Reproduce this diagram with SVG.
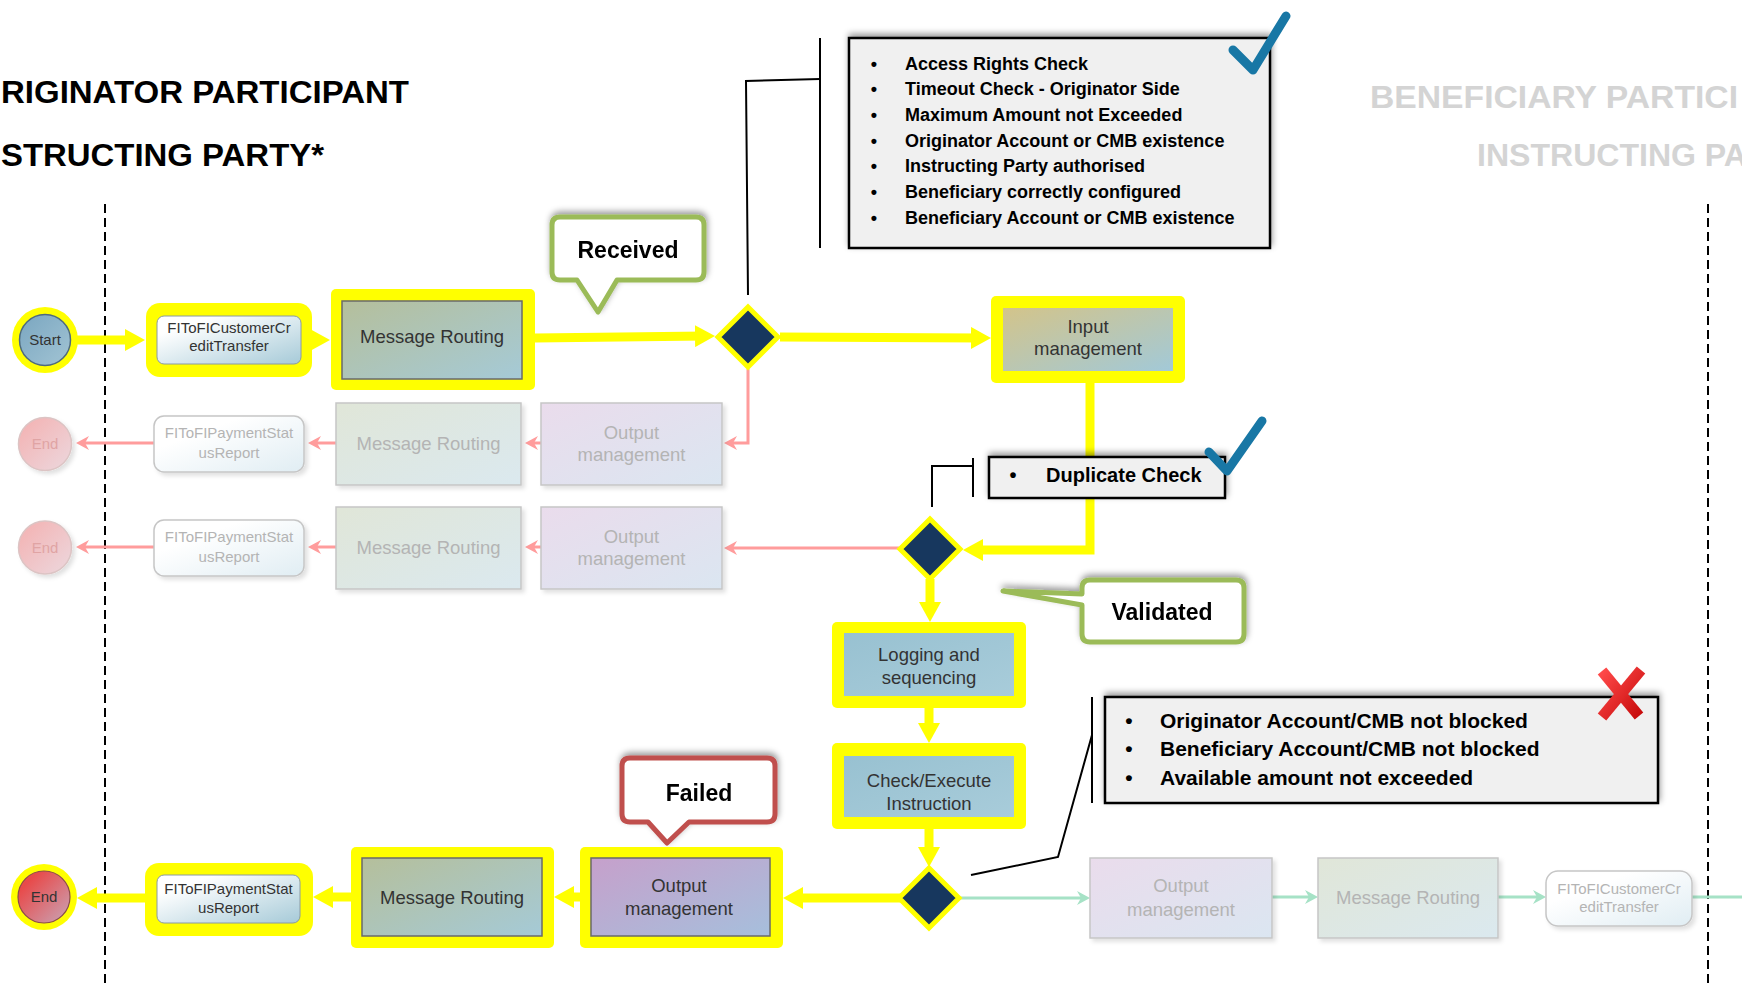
<svg xmlns="http://www.w3.org/2000/svg" width="1742" height="986" viewBox="0 0 1742 986">
<style>
.hl{fill:#ffff00}
.lbl{font-family:"Liberation Sans",Arial,sans-serif;font-size:18.5px;fill:#333;text-anchor:middle}
.sm{font-size:15px}
.fd{fill:#b4b4b4}
.fdend{fill:#e0a4a4}
.title{font-family:"Liberation Sans",Arial,sans-serif;font-weight:bold;font-size:31.5px;fill:#000}
.gt{fill:#d4d4d4}
.chk{font-family:"Liberation Sans",Arial,sans-serif;font-weight:bold;fill:#000}
.call{font-family:"Liberation Sans",Arial,sans-serif;font-weight:bold;font-size:23px;fill:#000;text-anchor:middle}
.yl{fill:none;stroke:#ffff00;stroke-width:9}
.pk{fill:none;stroke:#ff9c9c;stroke-width:3}
.gr{fill:none;stroke:#a6e2c6;stroke-width:3}
.bk{fill:none;stroke:#000;stroke-width:2}
.dash{fill:none;stroke:#000;stroke-width:2;stroke-dasharray:9 5}
.fbox{stroke:#c6c6c6;stroke-width:1.5}
.abox{stroke:#6a6a6a;stroke-width:1.5}
.dia{fill:#17375e;stroke:#ffff00;stroke-width:5;stroke-linejoin:miter}
.cbox{fill:#f0f0f0;stroke:#000;stroke-width:2.5}
.tick{fill:none;stroke:#1877a5;stroke-width:9;stroke-linecap:round;stroke-linejoin:round}
</style>
<defs>
<linearGradient id="gMR" x1="0" y1="0" x2="1" y2="1"><stop offset="0" stop-color="#b5bf9b"/><stop offset="1" stop-color="#a5cad7"/></linearGradient>
<linearGradient id="gOut" x1="0" y1="0" x2="1" y2="1"><stop offset="0" stop-color="#c6a0cb"/><stop offset="1" stop-color="#a6bfdc"/></linearGradient>
<linearGradient id="gIn" x1="0" y1="0" x2="1" y2="1"><stop offset="0" stop-color="#d3c48a"/><stop offset="1" stop-color="#a2c9d8"/></linearGradient>
<linearGradient id="gLog" x1="0" y1="0" x2="1" y2="1"><stop offset="0" stop-color="#98c1d1"/><stop offset="1" stop-color="#a8ccda"/></linearGradient>
<linearGradient id="gFI" x1="0" y1="0" x2="1" y2="1"><stop offset="0.2" stop-color="#ffffff"/><stop offset="1" stop-color="#a6cad8"/></linearGradient>
<linearGradient id="gStart" x1="0" y1="0" x2="1" y2="1"><stop offset="0" stop-color="#7aa6c0"/><stop offset="1" stop-color="#a2c4d4"/></linearGradient>
<linearGradient id="gEnd" x1="0" y1="0" x2="1" y2="1"><stop offset="0.2" stop-color="#e84a4a"/><stop offset="1" stop-color="#c8a6b8"/></linearGradient>
<linearGradient id="gMRf" x1="0" y1="0" x2="1" y2="1"><stop offset="0" stop-color="#e0e6d8"/><stop offset="1" stop-color="#dbe9ef"/></linearGradient>
<linearGradient id="gOutf" x1="0" y1="0" x2="1" y2="1"><stop offset="0" stop-color="#eadcec"/><stop offset="1" stop-color="#dbe6f1"/></linearGradient>
<linearGradient id="gFIf" x1="0" y1="0" x2="1" y2="1"><stop offset="0.3" stop-color="#ffffff"/><stop offset="1" stop-color="#e0edf3"/></linearGradient>
<linearGradient id="gEndf" x1="0" y1="0" x2="1" y2="1"><stop offset="0" stop-color="#f4b0b0"/><stop offset="1" stop-color="#ecd8de"/></linearGradient>
<linearGradient id="gX" x1="0" y1="0" x2="1" y2="1"><stop offset="0" stop-color="#ff4a4a"/><stop offset="1" stop-color="#c80c0c"/></linearGradient>
<filter id="sh" x="-20%" y="-40%" width="140%" height="180%"><feDropShadow dx="1" dy="-3" stdDeviation="3" flood-color="#000" flood-opacity="0.4"/></filter>
<filter id="bs" x="-10%" y="-10%" width="130%" height="130%"><feDropShadow dx="3" dy="3" stdDeviation="2" flood-color="#000" flood-opacity="0.12"/></filter>
<marker id="ay" markerUnits="userSpaceOnUse" viewBox="0 0 20 22" refX="10" refY="11" markerWidth="20" markerHeight="22" orient="auto"><path d="M0,0 L20,11 L0,22 Z" fill="#ffff00"/></marker>
<marker id="ap" markerUnits="userSpaceOnUse" viewBox="0 0 13 14" refX="9" refY="7" markerWidth="13" markerHeight="14" orient="auto"><path d="M0,0 L13,7 L0,14 L4,7 Z" fill="#ff9c9c"/></marker>
<marker id="ag" markerUnits="userSpaceOnUse" viewBox="0 0 13 14" refX="9" refY="7" markerWidth="13" markerHeight="14" orient="auto"><path d="M0,0 L13,7 L0,14 L4,7 Z" fill="#a6e2c6"/></marker>
</defs>
<rect width="1742" height="986" fill="#fff"/>

<g id="titles">
<text class="title" x="1" y="103" textLength="408" lengthAdjust="spacingAndGlyphs">RIGINATOR PARTICIPANT</text>
<text class="title" x="1" y="166" textLength="323" lengthAdjust="spacingAndGlyphs">STRUCTING PARTY*</text>
<text class="title gt" x="1370" y="108" textLength="368" lengthAdjust="spacingAndGlyphs">BENEFICIARY PARTICI</text>
<text class="title gt" x="1477" y="166" textLength="270" lengthAdjust="spacingAndGlyphs">INSTRUCTING PA</text>
</g>

<g id="lanes">
<line class="dash" x1="105" y1="204" x2="105" y2="986"/>
<line class="dash" x1="1708" y1="204" x2="1708" y2="986"/>
</g>

<g id="connectors">
<line class="yl" x1="77" y1="340" x2="135" y2="340" marker-end="url(#ay)"/>
<line class="yl" x1="312" y1="340" x2="320" y2="340" marker-end="url(#ay)"/>
<line class="yl" x1="535" y1="338" x2="705" y2="336" marker-end="url(#ay)"/>
<line class="yl" x1="780" y1="337" x2="981" y2="338" marker-end="url(#ay)"/>
<path class="yl" d="M1090,383 V550 H973" marker-end="url(#ay)"/>
<line class="yl" x1="930" y1="579" x2="930" y2="612" marker-end="url(#ay)"/>
<line class="yl" x1="929" y1="708" x2="929" y2="733" marker-end="url(#ay)"/>
<line class="yl" x1="929" y1="829" x2="929" y2="857" marker-end="url(#ay)"/>
<line class="yl" x1="900" y1="898" x2="793" y2="898" marker-end="url(#ay)"/>
<line class="yl" x1="580" y1="897" x2="564" y2="897" marker-end="url(#ay)"/>
<line class="yl" x1="351" y1="897" x2="323" y2="897" marker-end="url(#ay)"/>
<line class="yl" x1="145" y1="898" x2="87" y2="898" marker-end="url(#ay)"/>

<path class="pk" d="M748,369 V443 H728" marker-end="url(#ap)"/>
<line class="pk" x1="541" y1="443" x2="529" y2="443" marker-end="url(#ap)"/>
<line class="pk" x1="336" y1="443" x2="312" y2="443" marker-end="url(#ap)"/>
<line class="pk" x1="154" y1="443" x2="80" y2="443" marker-end="url(#ap)"/>
<line class="pk" x1="899" y1="548" x2="728" y2="548" marker-end="url(#ap)"/>
<line class="pk" x1="541" y1="547" x2="529" y2="547" marker-end="url(#ap)"/>
<line class="pk" x1="336" y1="547" x2="312" y2="547" marker-end="url(#ap)"/>
<line class="pk" x1="154" y1="547" x2="80" y2="547" marker-end="url(#ap)"/>

<line class="gr" x1="960" y1="898" x2="1086" y2="898" marker-end="url(#ag)"/>
<line class="gr" x1="1272" y1="897" x2="1314" y2="897" marker-end="url(#ag)"/>
<line class="gr" x1="1498" y1="897" x2="1542" y2="897" marker-end="url(#ag)"/>
<line class="gr" x1="1692" y1="897" x2="1742" y2="897"/>

<path class="bk" d="M748,295 L746,81 L820,79"/>
<line class="bk" x1="820" y1="38" x2="820" y2="248"/>
<path class="bk" d="M932,507 V466 H973"/>
<line class="bk" x1="973" y1="458" x2="973" y2="497"/>
<path class="bk" d="M971,875 L1058,857 L1092,735"/>
<line class="bk" x1="1092" y1="697" x2="1092" y2="803"/>
</g>

<g id="start">
<circle class="hl" cx="45" cy="340" r="33"/>
<circle cx="45" cy="340" r="25.5" fill="url(#gStart)" stroke="#4e6a7e" stroke-width="1.5"/>
<text class="lbl sm" x="45" y="345">Start</text>
</g>

<g id="fi-credit-transfer">
<rect class="hl" x="146" y="303" width="166" height="74" rx="14"/>
<rect x="157" y="316" width="144" height="48" rx="7" fill="url(#gFI)" stroke="#8a9aa4" stroke-width="1"/>
<text class="lbl sm" x="229" y="333">FIToFICustomerCr</text>
<text class="lbl sm" x="229" y="351">editTransfer</text>
</g>

<g id="message-routing-top">
<rect class="hl" x="331" y="289" width="204" height="101" rx="5"/>
<rect class="abox" x="342" y="301" width="180" height="78" fill="url(#gMR)"/>
<text class="lbl" x="432" y="343">Message Routing</text>
</g>

<g id="decision-received">
<polygon class="dia" points="748,307 778,337 748,367 718,337"/>
</g>

<g id="input-management">
<rect class="hl" x="991" y="296" width="194" height="87" rx="5"/>
<rect x="1003" y="308" width="170" height="63" fill="url(#gIn)"/>
<text class="lbl" x="1088" y="332.5">Input</text>
<text class="lbl" x="1088" y="354.5">management</text>
</g>

<g id="received-callout" filter="url(#sh)">
<path d="M560,217 H696 Q704,217 704,225 V272 Q704,280 696,280 H617 L598,312 L577,280 H560 Q552,280 552,272 V225 Q552,217 560,217 Z" fill="#fff" stroke="#9bbb59" stroke-width="5" stroke-linejoin="round"/>
<text class="call" x="628" y="258">Received</text>
</g>

<g id="checks-top">
<rect class="cbox" x="849" y="38" width="421" height="210" filter="url(#sh)"/>
<g class="chk" font-size="18">
<text x="874" y="69.5" text-anchor="middle">•</text><text x="905" y="69.5">Access Rights Check</text>
<text x="874" y="95.2" text-anchor="middle">•</text><text x="905" y="95.2">Timeout Check - Originator Side</text>
<text x="874" y="120.9" text-anchor="middle">•</text><text x="905" y="120.9">Maximum Amount not Exceeded</text>
<text x="874" y="146.6" text-anchor="middle">•</text><text x="905" y="146.6">Originator Account or CMB existence</text>
<text x="874" y="172.3" text-anchor="middle">•</text><text x="905" y="172.3">Instructing Party authorised</text>
<text x="874" y="198" text-anchor="middle">•</text><text x="905" y="198">Beneficiary correctly configured</text>
<text x="874" y="223.7" text-anchor="middle">•</text><text x="905" y="223.7">Beneficiary Account or CMB existence</text>
</g>
<path class="tick" d="M1233,50 L1253,70 L1286,16"/>
</g>

<g id="end-row2">
<circle cx="45" cy="444" r="26.5" fill="url(#gEndf)" stroke="#dcc4c4" stroke-width="1.5" filter="url(#bs)"/>
<text class="lbl sm fdend" x="45" y="449">End</text>
</g>
<g id="fi-status-row2">
<rect class="fbox" x="154" y="416" width="150" height="56" rx="10" fill="url(#gFIf)" filter="url(#bs)"/>
<text class="lbl sm fd" x="229" y="438">FIToFIPaymentStat</text>
<text class="lbl sm fd" x="229" y="458">usReport</text>
</g>
<g id="message-routing-row2">
<rect class="fbox" x="336" y="403" width="185" height="82" fill="url(#gMRf)" filter="url(#bs)"/>
<text class="lbl fd" x="428.5" y="449.5">Message Routing</text>
</g>
<g id="output-management-row2">
<rect class="fbox" x="541" y="403" width="181" height="82" fill="url(#gOutf)" filter="url(#bs)"/>
<text class="lbl fd" x="631.5" y="438.5">Output</text>
<text class="lbl fd" x="631.5" y="460.5">management</text>
</g>

<g id="end-row3">
<circle cx="45" cy="547.5" r="26.5" fill="url(#gEndf)" stroke="#dcc4c4" stroke-width="1.5" filter="url(#bs)"/>
<text class="lbl sm fdend" x="45" y="552.5">End</text>
</g>
<g id="fi-status-row3">
<rect class="fbox" x="154" y="520" width="150" height="56" rx="10" fill="url(#gFIf)" filter="url(#bs)"/>
<text class="lbl sm fd" x="229" y="542">FIToFIPaymentStat</text>
<text class="lbl sm fd" x="229" y="562">usReport</text>
</g>
<g id="message-routing-row3">
<rect class="fbox" x="336" y="507" width="185" height="82" fill="url(#gMRf)" filter="url(#bs)"/>
<text class="lbl fd" x="428.5" y="553.5">Message Routing</text>
</g>
<g id="output-management-row3">
<rect class="fbox" x="541" y="507" width="181" height="82" fill="url(#gOutf)" filter="url(#bs)"/>
<text class="lbl fd" x="631.5" y="542.5">Output</text>
<text class="lbl fd" x="631.5" y="564.5">management</text>
</g>

<g id="duplicate-check">
<rect class="cbox" x="989" y="457" width="236" height="41" filter="url(#sh)"/>
<text class="chk" x="1013" y="482" font-size="20" text-anchor="middle">•</text>
<text class="chk" x="1046" y="482" font-size="20">Duplicate Check</text>
<path class="tick" d="M1209,452 L1227,471 L1262,421"/>
</g>

<g id="decision-validated">
<polygon class="dia" points="930,519 960,549 930,579 900,549"/>
</g>

<g id="validated-callout" filter="url(#sh)">
<path d="M1090,580 H1236 Q1244,580 1244,588 V634 Q1244,642 1236,642 H1090 Q1082,642 1082,634 V605 L1003,591 L1082,594 V588 Q1082,580 1090,580 Z" fill="#fff" stroke="#9bbb59" stroke-width="5" stroke-linejoin="round"/>
<text class="call" x="1162" y="620">Validated</text>
</g>

<g id="logging-sequencing">
<rect class="hl" x="832" y="622" width="194" height="86" rx="5"/>
<rect x="844" y="633" width="170" height="63" fill="url(#gLog)"/>
<text class="lbl" x="929" y="660.5">Logging and</text>
<text class="lbl" x="929" y="683.5">sequencing</text>
</g>

<g id="check-execute">
<rect class="hl" x="832" y="743" width="194" height="86" rx="5"/>
<rect x="844" y="756" width="170" height="61" fill="url(#gLog)"/>
<text class="lbl" x="929" y="786.5">Check/Execute</text>
<text class="lbl" x="929" y="809.5">Instruction</text>
</g>

<g id="checks-bottom">
<rect class="cbox" x="1105" y="697" width="553" height="106" filter="url(#sh)"/>
<g class="chk" font-size="21">
<text x="1129" y="727.5" text-anchor="middle">•</text><text x="1160" y="727.5">Originator Account/CMB not blocked</text>
<text x="1129" y="755.5" text-anchor="middle">•</text><text x="1160" y="755.5">Beneficiary Account/CMB not blocked</text>
<text x="1129" y="784.5" text-anchor="middle">•</text><text x="1160" y="784.5">Available amount not exceeded</text>
</g>
<g stroke="url(#gX)" stroke-width="11" stroke-linecap="butt">
<line x1="1602" y1="671" x2="1639" y2="716"/>
<line x1="1641" y1="670" x2="1602" y2="717"/>
</g>
</g>

<g id="decision-executed">
<polygon class="dia" points="929,868 959,898 929,928 899,898"/>
</g>

<g id="failed-callout" filter="url(#sh)">
<path d="M630,758 H767 Q775,758 775,766 V814 Q775,822 767,822 H689 L667,843 L648,822 H630 Q622,822 622,814 V766 Q622,758 630,758 Z" fill="#fff" stroke="#c0504d" stroke-width="5" stroke-linejoin="round"/>
<text class="call" x="699" y="801">Failed</text>
</g>

<g id="output-management-bottom">
<rect class="hl" x="580" y="847" width="203" height="101" rx="5"/>
<rect class="abox" x="591" y="858" width="179" height="78" fill="url(#gOut)"/>
<text class="lbl" x="679" y="891.5">Output</text>
<text class="lbl" x="679" y="914.5">management</text>
</g>

<g id="message-routing-bottom">
<rect class="hl" x="351" y="847" width="203" height="101" rx="5"/>
<rect class="abox" x="362" y="858" width="180" height="78" fill="url(#gMR)"/>
<text class="lbl" x="452" y="903.5">Message Routing</text>
</g>

<g id="fi-status-bottom">
<rect class="hl" x="145" y="863" width="168" height="73" rx="14"/>
<rect x="157" y="875" width="143" height="48" rx="7" fill="url(#gFI)" stroke="#8a9aa4" stroke-width="1"/>
<text class="lbl sm" x="228.5" y="893.5">FIToFIPaymentStat</text>
<text class="lbl sm" x="228.5" y="912.5">usReport</text>
</g>

<g id="end-bottom">
<circle class="hl" cx="44" cy="897" r="33"/>
<circle cx="44" cy="897" r="26" fill="url(#gEnd)" stroke="#8a4a4a" stroke-width="1.2"/>
<text class="lbl sm" x="44" y="902" fill="#222">End</text>
</g>

<g id="output-management-right">
<rect class="fbox" x="1090" y="858" width="182" height="80" fill="url(#gOutf)" filter="url(#bs)"/>
<text class="lbl fd" x="1181" y="892">Output</text>
<text class="lbl fd" x="1181" y="915.5">management</text>
</g>
<g id="message-routing-right">
<rect class="fbox" x="1318" y="858" width="180" height="80" fill="url(#gMRf)" filter="url(#bs)"/>
<text class="lbl fd" x="1408" y="903.5">Message Routing</text>
</g>
<g id="fi-credit-transfer-right">
<rect class="fbox" x="1546" y="871" width="146" height="55" rx="12" fill="url(#gFIf)" filter="url(#bs)"/>
<text class="lbl sm fd" x="1619" y="893.5">FIToFICustomerCr</text>
<text class="lbl sm fd" x="1619" y="911.5">editTransfer</text>
</g>
</svg>
